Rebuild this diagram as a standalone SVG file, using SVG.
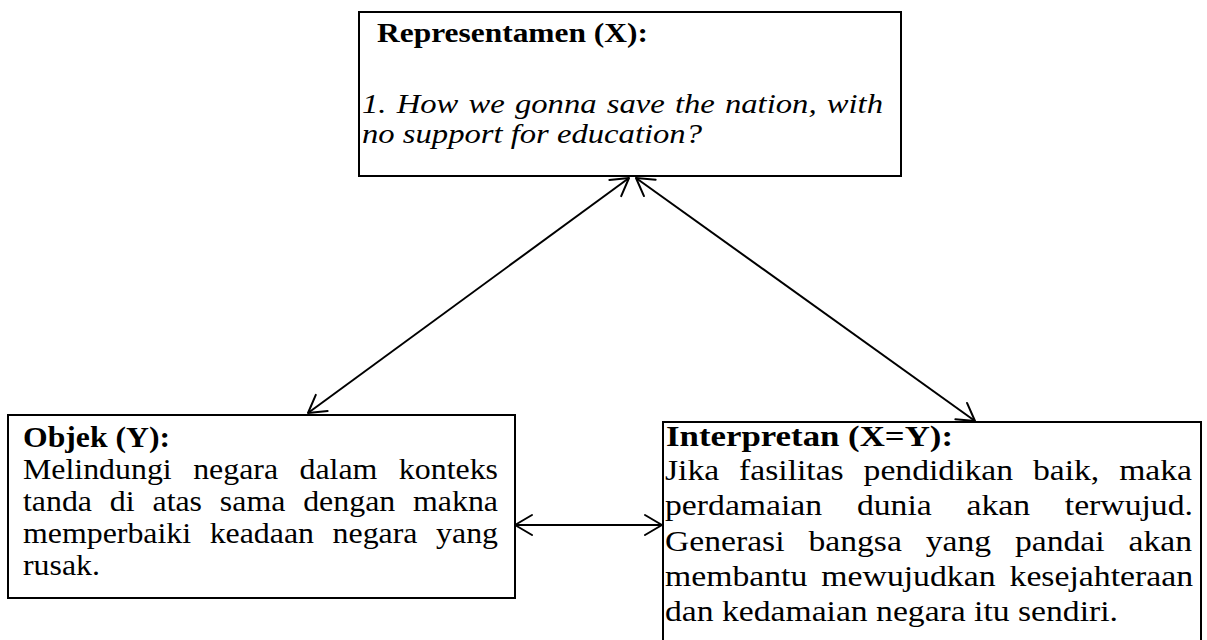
<svg xmlns="http://www.w3.org/2000/svg" width="1207" height="640" viewBox="0 0 1207 640">
<style>
  .box { fill: #ffffff; stroke: #000000; stroke-width: 2; }
  .t { font-family: "Liberation Serif", "Times New Roman", serif; fill: #000000; }
  .top { font-size: 28px; }
  .low { font-size: 30px; }
  .b { font-weight: bold; }
  .i { font-style: italic; }
  .conn { stroke: #000000; stroke-width: 2; fill: none; }
  .head { stroke: #000000; stroke-width: 2; fill: none; stroke-linecap: round; stroke-linejoin: round; }
</style>
<defs>
  <marker id="arrow" markerUnits="userSpaceOnUse" viewBox="-20 -12 22 24" refX="0" refY="0" markerWidth="22" markerHeight="24" orient="auto-start-reverse" overflow="visible">
    <path class="head" d="M-17,-10 L0,0 L-17,10"/>
  </marker>
</defs>
<rect width="1207" height="640" fill="#ffffff"/>

<g id="representamen">
  <rect class="box" x="359" y="12" width="542" height="164"/>
  <text class="t top b" x="377" y="42" textLength="271" lengthAdjust="spacingAndGlyphs">Representamen (X):</text>
  <text class="t top i" x="362" y="113" textLength="521" lengthAdjust="spacingAndGlyphs" word-spacing="1.7">1. How we gonna save the nation, with</text>
  <text class="t top i" x="362" y="143" textLength="340" lengthAdjust="spacingAndGlyphs">no support for education?</text>
</g>

<g id="objek">
  <rect class="box" x="8" y="415" width="507" height="183"/>
  <text class="t low b" x="23" y="447" textLength="147" lengthAdjust="spacingAndGlyphs">Objek (Y):</text>
  <text class="t low" x="23" y="479" textLength="475" lengthAdjust="spacingAndGlyphs" word-spacing="12.7">Melindungi negara dalam konteks</text>
  <text class="t low" x="23" y="511" textLength="475" lengthAdjust="spacingAndGlyphs" word-spacing="9.3">tanda di atas sama dengan makna</text>
  <text class="t low" x="23" y="543" textLength="475" lengthAdjust="spacingAndGlyphs" word-spacing="10">memperbaiki keadaan negara yang</text>
  <text class="t low" x="23" y="575" textLength="77" lengthAdjust="spacingAndGlyphs">rusak.</text>
</g>

<g id="interpretan">
  <rect class="box" x="663" y="422" width="538" height="240"/>
  <text class="t low b" x="666" y="446" textLength="287" lengthAdjust="spacingAndGlyphs">Interpretan (X=Y):</text>
  <text class="t low" x="665" y="480" textLength="527" lengthAdjust="spacingAndGlyphs" word-spacing="10.2">Jika fasilitas pendidikan baik, maka</text>
  <text class="t low" x="665" y="515" textLength="528" lengthAdjust="spacingAndGlyphs" word-spacing="23.4">perdamaian dunia akan terwujud.</text>
  <text class="t low" x="665" y="551" textLength="527" lengthAdjust="spacingAndGlyphs" word-spacing="13.8">Generasi bangsa yang pandai akan</text>
  <text class="t low" x="665" y="586" textLength="528" lengthAdjust="spacingAndGlyphs" word-spacing="5">membantu mewujudkan kesejahteraan</text>
  <text class="t low" x="665" y="621" textLength="453" lengthAdjust="spacingAndGlyphs">dan kedamaian negara itu sendiri.</text>
</g>

<g id="connectors">
  <line class="conn" x1="629" y1="178" x2="308" y2="413" marker-start="url(#arrow)" marker-end="url(#arrow)"/>
  <line class="conn" x1="636" y1="178" x2="975" y2="421" marker-start="url(#arrow)" marker-end="url(#arrow)"/>
  <line class="conn" x1="515" y1="525" x2="662" y2="525" marker-start="url(#arrow)" marker-end="url(#arrow)"/>
</g>
</svg>
